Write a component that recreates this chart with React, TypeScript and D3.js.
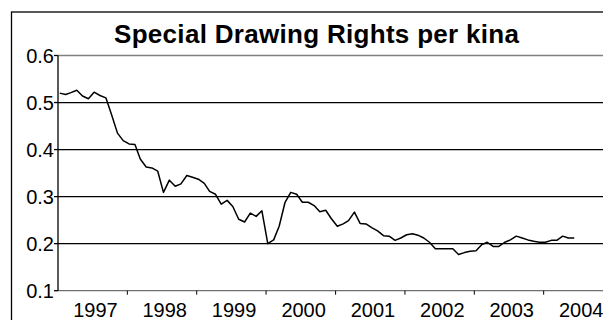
import React from "react";
import * as d3 from "d3";

// Monthly SDR per kina, Jan 1997 – Jun 2004
const startYear = 1997;
const sdrPerKina = [
  0.520, 0.517, 0.521, 0.526, 0.514, 0.508, 0.522, 0.515, 0.510, 0.474, 0.435, 0.419,
  0.412, 0.411, 0.380, 0.363, 0.361, 0.354, 0.309, 0.335, 0.322, 0.327, 0.345, 0.341,
  0.337, 0.328, 0.311, 0.305, 0.284, 0.292, 0.279, 0.252, 0.246, 0.265, 0.258, 0.270,
  0.200, 0.208, 0.237, 0.288, 0.309, 0.305, 0.288, 0.288, 0.281, 0.268, 0.271, 0.253,
  0.237, 0.242, 0.249, 0.267, 0.243, 0.242, 0.234, 0.227, 0.217, 0.216, 0.207, 0.212,
  0.219, 0.221, 0.218, 0.212, 0.203, 0.189, 0.189, 0.189, 0.189, 0.177, 0.181, 0.184,
  0.185, 0.198, 0.203, 0.194, 0.194, 0.203, 0.208, 0.216, 0.212, 0.208, 0.205, 0.203,
  0.203, 0.207, 0.207, 0.216, 0.212, 0.212,
];
const yearLabels = ["1997", "1998", "1999", "2000", "2001", "2002", "2003", "2004"];
const yTicks = [0.1, 0.2, 0.3, 0.4, 0.5, 0.6];

const W = 603;
const H = 320;
const FONT = "'Liberation Sans', Arial, Helvetica, sans-serif";

export default function App() {
  const left = 58;
  const top = 55.5;
  const bottom = 290.7;
  const x = d3
    .scaleTime()
    .domain([new Date(startYear, 0, 1), new Date(startYear + 8, 0, 1)])
    .range([left, 613.2]);
  const y = d3.scaleLinear().domain([0.1, 0.6]).range([bottom, top]);

  const points = sdrPerKina.map((v, i) => ({ date: new Date(startYear, i, 10), v }));
  const line = d3
    .line<{ date: Date; v: number }>()
    .x((d) => x(d.date))
    .y((d) => y(d.v));

  const yearTicks = d3.range(1, 9).map((k) => new Date(startYear + k, 0, 1));

  return (
    <svg
      width={W}
      height={H}
      style={{ position: "absolute", left: 0, top: 0, background: "#fff" }}
    >
      <rect x={0} y={0} width={W} height={H} fill="#fff" />
      {/* chart frame */}
      <rect x={11.5} y={12} width={640} height={340} fill="none" stroke="#000" strokeWidth={1.3} />

      <text
        x={114}
        y={42.5}
        textLength={405}
        lengthAdjust="spacing"
        fontFamily={FONT}
        fontWeight="bold"
        fontSize={26}
        fill="#000"
      >
        Special Drawing Rights per kina
      </text>

      {/* plot area top border */}
      <line x1={left} x2={W + 20} y1={top} y2={top} stroke="#808080" strokeWidth={1.5} />

      {/* gridlines */}
      {yTicks
        .filter((t) => t > 0.1 && t < 0.6)
        .map((t) => (
          <line key={t} x1={left} x2={W + 20} y1={y(t)} y2={y(t)} stroke="#000" strokeWidth={1.3} />
        ))}

      {/* x axis */}
      <line x1={left} x2={W + 20} y1={bottom} y2={bottom} stroke="#707070" strokeWidth={1.3} />
      {yearTicks.map((d, i) => (
        <line key={i} x1={x(d)} x2={x(d)} y1={bottom} y2={bottom + 4} stroke="#000" strokeWidth={1} />
      ))}
      {yearLabels.map((lab, i) => (
        <text
          key={lab}
          x={x(new Date(startYear + i, 6, 1)) + 3}
          y={316.5}
          textAnchor="middle"
          fontFamily={FONT}
          fontSize={20}
          fill="#000"
        >
          {lab}
        </text>
      ))}

      {/* y axis */}
      <line x1={left} x2={left} y1={top} y2={bottom} stroke="#000" strokeWidth={1.3} />
      {yTicks.map((t) => (
        <g key={t}>
          <line x1={left - 4} x2={left} y1={y(t)} y2={y(t)} stroke="#000" strokeWidth={1.3} />
          <text
            x={54}
            y={y(t)}
            dy="0.35em"
            textAnchor="end"
            fontFamily={FONT}
            fontSize={20}
            fill="#000"
          >
            {t.toFixed(1)}
          </text>
        </g>
      ))}

      <path d={line(points) ?? ""} fill="none" stroke="#000" strokeWidth={1.5} strokeLinejoin="round" />
    </svg>
  );
}
